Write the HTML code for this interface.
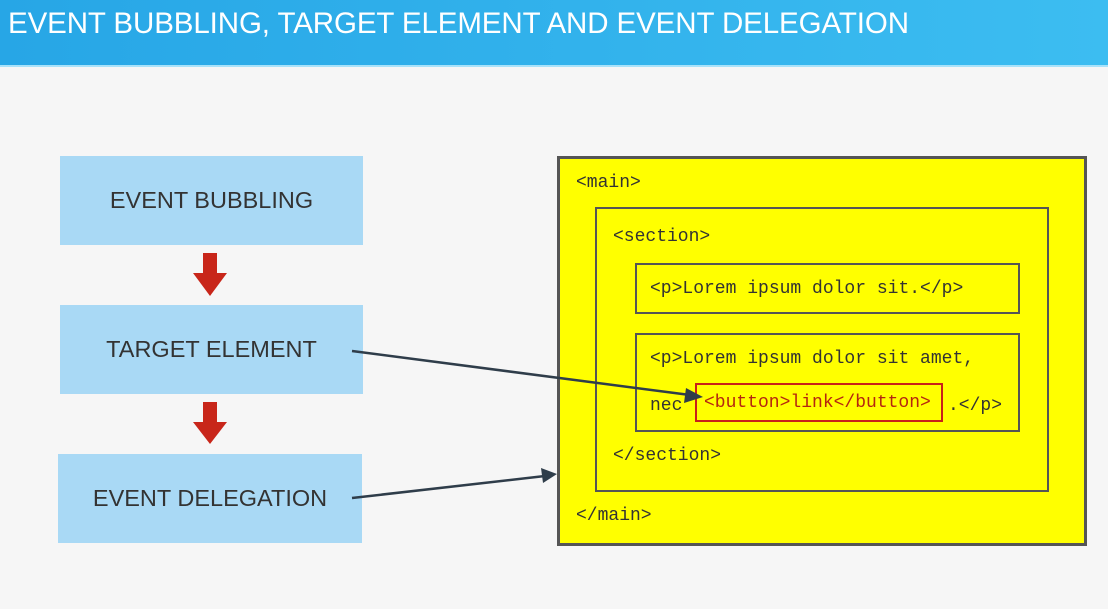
<!DOCTYPE html>
<html><head><style>
body{margin:0;width:1108px;height:609px;background:#f6f6f6;position:relative;overflow:hidden;font-family:"Liberation Sans",sans-serif}
.hdr{position:absolute;left:0;top:0;width:1108px;height:65px;background:linear-gradient(90deg,#27a6e6,#3cbdf1);border-bottom:2px solid #a8e2fa}
.hdr span{position:absolute;left:8px;top:7px;color:#fff;font-size:29.5px;letter-spacing:-0.1px}
.lb{position:absolute;left:60px;width:303px;height:89px;background:#a9d9f5;color:#333;font-size:23.5px;display:flex;align-items:center;justify-content:center}
.bx{position:absolute;border:2px solid #555;box-sizing:border-box}
.m{position:absolute;font-family:"Liberation Mono",monospace;font-size:18px;color:#333}
</style></head><body>
<div class="hdr"><span>EVENT BUBBLING, TARGET ELEMENT AND EVENT DELEGATION</span></div>
<div class="lb" style="top:156px">EVENT BUBBLING</div>
<div class="lb" style="top:305px">TARGET ELEMENT</div>
<div class="lb" style="top:454px;left:58px;width:304px">EVENT DELEGATION</div>
<div class="bx" style="left:557px;top:156px;width:530px;height:390px;background:#ffff00;border-width:3px"></div>
<div class="bx" style="left:595px;top:207px;width:454px;height:285px"></div>
<div class="bx" style="left:635px;top:263px;width:385px;height:51px"></div>
<div class="bx" style="left:635px;top:333px;width:385px;height:99px"></div>
<div class="bx" style="left:695px;top:383px;width:248px;height:39px;border-color:#c8201a"></div>
<div class="m" style="left:576px;top:173px">&lt;main&gt;</div>
<div class="m" style="left:613px;top:227px">&lt;section&gt;</div>
<div class="m" style="left:650px;top:279px">&lt;p&gt;Lorem ipsum dolor sit.&lt;/p&gt;</div>
<div class="m" style="left:650px;top:349px">&lt;p&gt;Lorem ipsum dolor sit amet,</div>
<div class="m" style="left:650px;top:396px">nec</div>
<div class="m" style="left:704px;top:393px;color:#b5260f">&lt;button&gt;link&lt;/button&gt;</div>
<div class="m" style="left:948px;top:396px">.&lt;/p&gt;</div>
<div class="m" style="left:613px;top:446px">&lt;/section&gt;</div>
<div class="m" style="left:576px;top:506px">&lt;/main&gt;</div>
<svg width="1108" height="609" style="position:absolute;left:0;top:0">
<g fill="#c8261a">
<rect x="203" y="253" width="14" height="22"/><polygon points="193,273 227,273 210,296"/>
<rect x="203" y="402" width="14" height="22"/><polygon points="193,422 227,422 210,444"/>
</g>
<g stroke="#2f3d4a" stroke-width="2.5" fill="#2f3d4a">
<line x1="352" y1="351" x2="690" y2="395"/>
<polygon points="703,397 686,388 684,403" stroke="none"/>
<line x1="352" y1="498" x2="545" y2="476"/>
<polygon points="557,474 541,468 543,483" stroke="none"/>
</g>
</svg>
</body></html>
